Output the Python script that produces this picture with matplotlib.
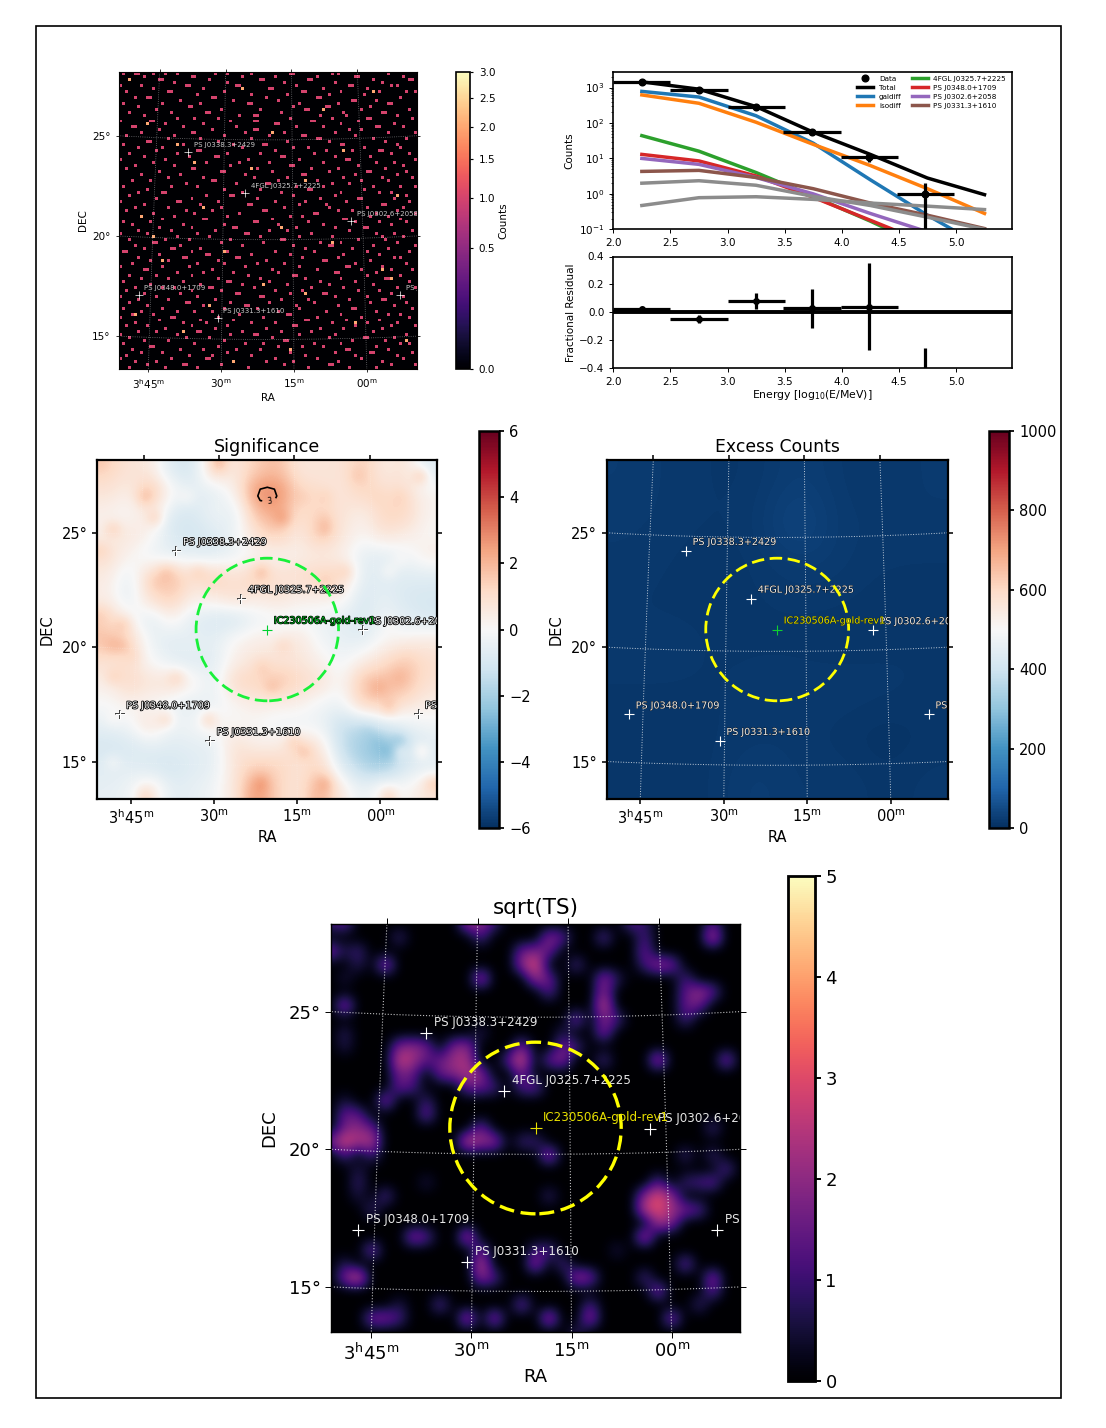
import numpy as np
import matplotlib
matplotlib.use("Agg")
import matplotlib.pyplot as plt
import matplotlib.patheffects as pe
from matplotlib.colors import PowerNorm, Normalize
from matplotlib.patches import Circle, Rectangle

W, H = 1106, 1428
# ---------- sky ----------
ra0, dec0 = 50.1, 20.96
half_x, half_y = 7.47, 7.44
circle_radius = 3.13
ra_ticks = [56.25, 52.5, 48.75, 45.0]
ra_labels = ["3$^{\\mathrm{h}}$45$^{\\mathrm{m}}$", "30$^{\\mathrm{m}}$", "15$^{\\mathrm{m}}$", "00$^{\\mathrm{m}}$"]
dec_ticks = [25, 20, 15]
dec_labels = ["25°", "20°", "15°"]
src_names = ["PS J0338.3+2429", "4FGL J0325.7+2225", "PS J0302.6+2058", "PS J0348.0+1709", "PS J0331.3+1610", "PS J0253.6+1710"]
src_ra = [54.48, 51.33, 45.61, 56.88, 52.71, 43.15]
src_dec = [24.35, 22.31, 20.87, 17.10, 16.05, 17.10]
roi_name = "IC230506A-gold-rev1"

# ---------- significance: broad 16 x 16 levels, then finer 32 x 32 local peaks ----------
sig_grid = [
 [1.3,0.8,0.6,-0.8,-1.0,1.2,0.6,1.5,1.9,0.7,0.7,0.8,1.5,0.5,0.8,-0.7],
 [0.8,0.4,1.8,0.1,-0.5,-0.6,0.3,2.8,2.9,1.3,1.0,0.7,1.3,1.0,1.0,0.2],
 [0.3,0.0,0.7,-0.8,-0.9,-0.3,-0.5,1.8,2.4,1.0,1.3,0.8,0.4,1.3,1.3,0.2],
 [0.4,0.7,0.2,-0.9,-1.1,-0.8,-0.3,0.9,1.5,0.5,1.7,0.7,0.1,0.8,0.5,0.1],
 [1.0,0.2,-0.3,-0.5,-0.5,-0.7,-0.3,0.1,0.2,0.4,0.5,0.4,-0.5,-0.6,-0.3,0.4],
 [0.5,-0.5,1.3,1.9,0.9,1.5,0.8,1.5,0.9,1.0,1.3,1.3,-0.6,-0.7,-0.7,-0.7],
 [0.4,-0.6,1.0,1.5,0.4,0.5,1.0,0.5,0.8,0.4,0.4,0.3,-0.9,-0.5,-0.9,-1.0],
 [1.3,0.3,-0.7,0.3,-0.6,-0.9,-1.0,-0.3,-0.2,-0.2,-0.3,-0.6,-0.9,-0.3,-0.6,-0.9],
 [1.8,1.3,-0.3,-0.7,-0.5,-0.6,0.1,0.4,0.4,0.7,-0.2,-0.5,-0.6,0.1,0.3,0.5],
 [0.9,1.0,0.0,-0.5,-0.7,-0.6,0.4,0.8,0.9,0.7,0.3,-0.2,0.4,1.0,1.7,1.0],
 [0.4,1.2,0.7,1.0,0.3,-0.5,1.2,1.3,1.7,1.2,0.8,0.0,1.8,2.0,1.9,0.9],
 [0.0,0.3,0.1,-0.3,-0.6,-0.3,0.1,0.5,0.4,0.3,-0.2,-0.3,1.3,1.5,0.9,0.4],
 [-0.5,-0.2,0.9,-0.3,-0.2,0.3,0.1,0.0,-0.3,-0.3,-0.3,-1.3,-1.5,-0.9,-0.5,-0.2],
 [-1.0,-0.9,-0.6,-0.7,-0.6,-0.5,0.9,0.4,0.5,1.2,0.7,-1.4,-2.2,-2.6,-1.4,-0.7],
 [-0.7,-0.6,-0.9,-1.0,-0.7,-0.5,0.8,1.5,1.3,0.8,1.3,-0.7,-1.7,-2.1,-0.9,-0.5],
 [-0.5,-0.3,0.7,-0.6,-0.5,-0.2,0.7,2.8,1.3,0.7,2.3,0.5,-0.5,0.4,0.0,0.8],
]
sig_detail = [
 (3,4,2.2),(0,0,1.6),(5,5,1.6),(0,11,2.2),(1,24,1.8),(1,30,1.8),(6,21,2.2),(5,21,1.7),(5,17,2.8),(3,19,1.5),(3,21,1.5),(3,28,1.5),(3,26,1.3),
 (10,6,2.0),(11,5,1.7),(10,15,2.2),(10,9,1.6),(6,1,1.7),(8,0,1.4),(10,23,1.5),(11,21,1.7),(17,1,2.2),(15,2,1.8),(17,2,2.0),(14,0,1.5),(18,3,1.3),
 (20,1,1.5),(20,7,1.5),(17,17,1.4),(19,15,1.6),(21,16,2.0),(21,26,2.4),(20,28,2.2),(23,27,1.9),(22,25,1.5),(24,10,1.6),(24,6,1.4),(30,15,3.0),
 (30,21,2.6),(27,19,2.0),(26,18,1.6),(31,4,1.4),(31,27,1.4),(30,31,1.7),(27,30,0.8),(27,27,-3.0),(26,26,-2.6),(25,25,-2.0),(26,28,-2.6),
 (4,6,0.0),(3,8,0.1),(24,1,0.2),(28,1,0.0),(27,28,-0.3),(9,28,0.1),(15,27,0.2),(10,27,0.2),
]
sig_peak_ra = [50.8, 50.45, 50.1, 49.75, 49.4]
sig_peak_dec = [26.27, 26.52, 26.82, 27.12, 27.37]
sig_peak = [
 [2.3,2.5,2.6,2.5,2.3],
 [2.5,2.9,2.9,2.9,2.5],
 [2.6,3.2,3.4,3.2,2.6],
 [2.5,3.0,3.2,3.0,2.5],
 [2.3,2.5,2.6,2.5,2.3],
]
# ---------- excess counts ----------
excess_grid = [
 [24,18,15,15,30,18,15,21],
 [21,18,15,18,50,18,21,18],
 [18,15,12,15,24,21,15,15],
 [15,15,15,15,15,15,12,15],
 [18,18,15,15,15,12,15,15],
 [15,15,15,18,18,21,18,15],
 [12,12,15,18,18,12,6,12],
 [12,12,15,28,18,21,12,18],
]
# ---------- sqrt(TS): (row, column, value) on a 31 x 31 mesh; everything else is 0 ----------
ts_cells = [
 (0,1,1.5),(0,0,1.0),(2,0,1.8),(2,2,1.1),(2,1,.6),(1,5,1.0),(3,4,2.2),(3,2,.8),(4,1,.6),
 (0,10,2.0),(0,11,2.0),(1,11,1.2),(0,12,1.0),(3,15,3.2),(2,14,1.6),(2,15,1.8),(3,14,2.0),(4,15,2.2),(4,16,1.6),(5,16,1.4),
 (1,16,2.0),(1,17,1.4),(2,16,1.6),(3,18,1.2),(4,11,2.4),(1,20,1.4),(0,22,1.3),(0,23,.9),(2,23,1.6),(1,23,1.2),(3,23,1.1),
 (3,25,1.8),(3,24,2.1),(1,28,2.7),(0,28,1.2),(4,21,.8),(4,20,2.0),(6,20,2.9),(5,20,2.0),(7,20,1.8),(7,21,1.2),
 (5,27,2.2),(4,26,1.2),(5,28,1.5),(5,26,1.4),(6,26,1.5),(6,27,1.6),(7,26,1.2),(7,18,1.8),(6,1,2.2),(8,1,.8),(9,1,.7),
 (8,11,.7),(8,17,.7),(8,20,1.9),(10,24,2.5),(10,29,2.0),(10,5,2.8),(9,6,2.0),(9,5,1.8),(9,7,1.6),(10,6,2.3),(10,7,1.4),
 (11,5,1.7),(11,6,1.5),(12,5,1.5),(12,6,1.2),(9,9,1.8),(9,10,2.0),(10,9,2.2),(10,10,2.4),(11,8,1.6),(11,9,1.9),(11,10,2.4),
 (10,8,1.5),(12,11,1.5),(12,10,1.5),(11,11,2.0),(12,12,1.1),(10,14,3.1),(9,14,1.8),(11,14,1.7),(10,13,1.4),(10,16,1.5),
 (10,17,2.0),(9,17,1.6),(9,18,1.2),(12,15,1.5),(12,14,1.3),(10,20,1.2),(13,4,2.0),(14,7,1.7),(13,7,1.0),
 (16,1,3.0),(16,2,2.3),(15,2,2.0),(16,3,2.6),(15,3,1.5),(15,1,1.7),(14,1,1.5),(14,2,1.4),(16,0,1.7),(17,1,1.2),(13,1,.6),
 (16,10,2.9),(16,12,2.2),(16,11,2.1),(15,11,1.7),(16,14,1.0),(17,16,2.3),(16,15,1.0),(17,3,1.1),(19,2,1.0),(18,2,.6),(20,2,.6),
 (15,28,1.1),(17,26,1.0),(17,28,1.0),(18,29,1.4),(20,24,3.1),(19,24,1.4),(21,24,3.1),(21,23,2.6),(20,23,2.0),(21,25,2.2),(20,25,2.0),
 (22,24,2.3),(22,25,1.8),(21,26,1.7),(21,27,1.4),(19,28,1.5),(19,27,1.2),(19,26,1.0),(20,16,.9),(19,7,.6),(20,4,1.3),(21,3,1.0),
 (23,10,2.5),(23,6,2.0),(23,7,1.4),(23,23,2.5),(24,3,1.8),(26,2,3.1),(26,1,1.8),(25,1,.8),(25,11,2.7),(24,11,1.6),(26,11,2.0),(26,12,1.3),
 (25,15,2.2),(24,16,1.3),(24,15,1.1),(26,18,2.2),(26,19,1.8),(25,17,1.2),(24,21,.6),(25,26,1.7),(27,24,2.0),(26,23,1.2),(26,28,2.0),(27,28,1.5),
 (28,27,1.0),(29,19,2.2),(28,19,1.2),(28,14,1.7),(29,16,2.5),(29,12,2.2),(29,10,2.4),(28,8,1.4),(29,4,1.8),(29,5,1.2),(29,3,1.8),(28,5,.7),
 (29,25,2.0),(30,18,.8),
]
ts_mesh = 31
# ---------- counts map: one-count cells per row of a 100 x 100 map, top row first ----------
counts_rows = [
 [1,5,6,11,15,19,32,36,44,57,58,71,73,90],[8,24,25,41,52,66,79,80,95],[3,13,14,30,47,48,63,64,85,97,98],[18,36,55,72,88],
 [0,7,22,23,39,40,59,77,78,91,93],[11,28,50,51,68,83],[2,16,17,35,61,62,74,87,96,99],[26,44,56,70,82],
 [5,9,10,31,32,49,66,67,94],[20,38,53,78,79,86],[1,14,27,43,44,60,73,90,91],[6,23,24,58,69,70,84],
 [12,34,47,62,63,81,97],[3,17,29,30,54,75,88,89],[8,40,45,46,67,76,93],[19,25,33,57,71,83,84,98],
 [0,10,11,37,45,46,64,65,80],[15,28,52,53,74,92],[4,5,21,39,59,68,86,87,95],[13,31,45,46,77,81],
 [7,24,25,42,55,72,90,99],[2,18,35,50,61,62,79],[16,27,44,66,67,85,96],[9,10,33,56,70,89],
 [1,21,38,48,49,74,75,93],[6,14,41,58,63,82,94],[12,26,27,52,69,78,87,88],[3,19,36,47,65,91,97],
 [8,23,32,33,54,55,72,84],[0,15,43,60,76,77,99],[11,29,40,50,68,86,92],[5,18,37,57,58,80,95],
 [2,24,25,46,64,73,89],[13,34,35,51,70,83,84,96],[7,20,42,61,62,79,93],[16,28,45,56,75,88,98],
 [4,10,31,32,53,66,81,90],[22,39,49,50,71,77],[1,17,26,59,68,85,94,99],[9,35,47,63,64,82],
 [6,14,15,41,54,74,87,91],[3,29,37,38,58,72,96],[12,24,46,67,80,81,92],[0,19,20,33,52,62,76,97],
 [8,27,43,44,60,69,88,89],[5,16,34,55,70,83,95],[2,22,31,48,49,73,78,93],[11,25,40,65,66,86,99],
 [7,18,36,57,61,84,90],[14,28,29,51,75,76,94],[1,10,45,46,63,79,87,96],[4,21,35,53,68,91],
 [13,24,38,39,59,72,82,83],[6,17,32,50,56,77,98],[0,9,26,42,43,64,86,92],[19,30,47,60,71,88,95],
 [3,15,23,37,54,55,80,89],[11,12,34,48,67,74,93],[5,20,41,58,70,71,85,99],[8,17,18,27,62,78,90],
 [1,2,24,36,52,65,83,97],[13,29,30,44,57,75,87],[6,21,22,39,40,61,73,92,94],[10,16,33,49,68,69,84],
 [4,26,35,46,55,79,96],[0,14,23,42,60,76,77,88],[8,9,31,51,66,81,91,98],[19,28,38,53,72,73,86],
 [3,12,24,43,58,59,83,94],[7,16,33,47,62,74,89,90],[1,21,36,37,50,67,79,97],[10,27,41,56,70,85],
 [5,14,18,30,31,45,64,75,93,99],[2,24,34,52,61,80,87],[8,20,39,40,57,68,69,91],[0,12,26,47,48,72,83,95],
 [6,16,32,54,63,77,88,89],[3,22,23,37,50,65,84,96],[9,28,42,43,59,73,92],[1,14,35,46,60,78,79,98],
 [7,19,25,31,53,69,86],[4,11,40,56,57,74,90,94],[0,17,18,33,48,66,81,97],[13,27,38,62,63,76,87],
 [5,21,29,44,52,71,83,93],[2,9,24,36,58,59,79,91,99],[15,32,49,67,75,88],[6,12,26,27,41,54,64,85],
 [0,19,37,45,46,60,72,96],[3,22,30,51,70,82,83,92],[8,16,35,55,56,78,89],[1,25,42,48,65,74,94,97],
 [10,11,33,53,61,68,86],[4,20,28,39,47,76,77,90],[7,14,36,57,72,84,85,98],[2,23,31,44,62,79,93],
 [0,17,29,30,52,66,81,95],[5,12,38,49,58,73,88],[9,21,22,34,55,70,71,91,99],[3,15,26,43,63,77,86],
]
counts_two = [(2,3),(5,41),(6,85),(17,9),(20,51),(24,19),(26,75),(32,44),(36,62),(41,93),(45,28),(48,7),(52,54),(57,71),
 (60,35),(63,14),(66,88),(71,48),(74,62),(78,30),(81,5),(84,79),(87,21),(90,96),(93,57),(97,38),(12,68),(30,25),(69,91),(55,11)]

# ---------- spectrum ----------
e_centers = [2.25, 2.75, 3.25, 3.75, 4.25, 4.75, 5.25]
data_x = [2.25, 2.75, 3.25, 3.74, 4.24, 4.73]
data_y = [1430, 880, 290, 55, 11, 1.0]
data_xerr = [0.25, 0.25, 0.25, 0.25, 0.25, 0.25]
data_yerr = [38, 30, 17, 7.4, 3.3, 0.99]
total = [1450, 900, 290, 55, 13, 2.8, 0.95]
galdiff = [780, 540, 160, 27, 2.5, 0.25, 0.03]
isodiff = [620, 360, 105, 25, 6.3, 1.4, 0.28]
fgl = [44, 16, 4.0, 0.85, 0.17, 0.03, 0.006]
ps0348 = [13, 8.5, 3.2, 0.8, 0.18, 0.04, 0.008]
ps0302 = [10, 6.8, 2.9, 1.0, 0.28, 0.085, 0.02]
ps0331 = [4.3, 4.6, 2.9, 1.4, 0.55, 0.25, 0.105]
grey_a = [2.0, 2.35, 1.75, 0.85, 0.47, 0.22, 0.10]
grey_b = [0.47, 0.78, 0.83, 0.70, 0.55, 0.45, 0.36]
resid_y = [0.02, -0.05, 0.08, 0.03, 0.04, -0.60]
resid_yerr = [0.02, 0.03, 0.06, 0.14, 0.31, 0.34]

plt.rcParams["font.family"] = "DejaVu Sans"
fig = plt.figure(figsize=(W / 100, H / 100), dpi=100, facecolor="white")


def px_axes(l, t, r, b, **kw):
    return fig.add_axes([l / W, 1 - b / H, (r - l) / W, (b - t) / H], **kw)


def project(ra, dec):
    """Zenithal equidistant sky projection, degrees on the image plane."""
    a = np.radians(np.asarray(ra, float) - ra0)
    d = np.radians(np.asarray(dec, float))
    d0 = np.radians(dec0)
    cosc = np.clip(np.sin(d0) * np.sin(d) + np.cos(d0) * np.cos(d) * np.cos(a), -1, 1)
    c = np.arccos(cosc)
    k = np.where(c < 1e-7, 1.0, c / np.where(c < 1e-7, 1.0, np.sin(c)))
    return (np.degrees(k * np.cos(d) * np.sin(a)),
            np.degrees(k * (np.cos(d0) * np.sin(d) - np.sin(d0) * np.cos(d) * np.cos(a))))


def sky_frame(ax, fs, lw, grid_alpha, grid_lw, tick_len, ypad, xpad=2):
    ax.set_xlim(half_x, -half_x)
    ax.set_ylim(-half_y, half_y)
    bot, top, lef, rig = [], [], [], []
    dense_dec = np.linspace(10, 32, 400)
    dense_ra = np.linspace(40, 61, 400)
    for r in ra_ticks:
        gx, gy = project(np.full_like(dense_dec, r), dense_dec)
        ax.plot(gx, gy, color="white", ls=":", lw=grid_lw, alpha=grid_alpha, zorder=2)
        bot.append(np.interp(-half_y, gy, gx))
        top.append(np.interp(half_y, gy, gx))
    for d in dec_ticks:
        gx, gy = project(dense_ra, np.full_like(dense_ra, d))
        ax.plot(gx, gy, color="white", ls=":", lw=grid_lw, alpha=grid_alpha, zorder=2)
        o = np.argsort(gx)
        lef.append(np.interp(half_x, gx[o], gy[o]))
        rig.append(np.interp(-half_x, gx[o], gy[o]))
    ax.set_xticks(bot, ra_labels, fontsize=fs)
    ax.set_yticks(lef, dec_labels, fontsize=fs)
    ax.tick_params(length=tick_len, width=lw * 0.7, direction="out")
    sec = ax.secondary_xaxis("top")
    sec.set_xticks(top, [""] * 4)
    sec.tick_params(length=tick_len, width=lw * 0.7)
    sec.spines["top"].set_visible(False)
    sey = ax.secondary_yaxis("right")
    sey.set_yticks(rig, [""] * 3)
    sey.tick_params(length=tick_len, width=lw * 0.7)
    sey.spines["right"].set_visible(False)
    for s in ax.spines.values():
        s.set_linewidth(lw)
    ax.set_xlabel("RA", fontsize=fs, labelpad=xpad)
    ax.set_ylabel("DEC", fontsize=fs, labelpad=ypad)


def sources(ax, fs, ms, off, stroke, color="#e6e6e6", show_roi=True, roi_color="yellow", mark_color="lime",
            roi_stroke=None, circ_color="yellow", circ_lw=2.0, mew=0.8):
    fx = [pe.withStroke(linewidth=stroke, foreground="black")] if stroke else None
    xs, ys = project(src_ra, src_dec)
    ax.plot(xs, ys, "+", color="white", ms=ms, mew=mew, zorder=5,
            path_effects=[pe.withStroke(linewidth=1.4, foreground="#333333")] if stroke > 1 else None)
    for x, y, n in zip(xs, ys, src_names):
        ax.annotate(n, (x, y), xytext=(off, off * 0.92), textcoords="offset points", color=color, fontsize=fs,
                    clip_on=True, path_effects=fx, zorder=6)
    if show_roi:
        x0, y0 = project(ra0, dec0)
        ax.add_patch(Circle((float(x0), float(y0)), circle_radius, fill=False, ec=circ_color, ls=(0, (4.5, 2)), lw=circ_lw, zorder=7))
        ax.plot([x0], [y0], "+", color=mark_color, ms=ms, mew=mew, zorder=8)
        ax.annotate(roi_name, (float(x0), float(y0)), xytext=(off, off * 0.92), textcoords="offset points", color=roi_color,
                    fontsize=fs, clip_on=True, zorder=9,
                    path_effects=[pe.withStroke(linewidth=roi_stroke, foreground="black")] if roi_stroke else None)


def cbar(im, box, fs, ticks, lw, fmt=None, tick_len=3.5):
    cax = px_axes(*box)
    cb = fig.colorbar(im, cax=cax, ticks=ticks, format=fmt)
    cb.ax.tick_params(labelsize=fs, length=tick_len, width=lw * 0.7)
    cb.outline.set_linewidth(lw)
    return cb


extent = (half_x, -half_x, -half_y, half_y)

# --- counts map ---
ax = px_axes(119, 72, 416.5, 369)
cgrid = np.zeros((100, 100))
for r, cols in enumerate(counts_rows):
    cgrid[r, cols] = 1
for r, c in counts_two:
    cgrid[r, c] = 2
im = ax.imshow(cgrid, cmap="magma", norm=PowerNorm(0.5, vmin=0, vmax=3), extent=extent, aspect="auto",
               interpolation="nearest", origin="upper")
sky_frame(ax, 7.5, 0.8, 0.45, 0.6, 2.5, 3, 1)
sources(ax, 5.0, 6, 4.0, 0, color="#c8c8c8", show_roi=False, mew=0.5)
cb = cbar(im, (455.5, 72, 470.5, 369), 7.5, [0, .5, 1, 1.5, 2, 2.5, 3], 1.2, "%.1f", 2.5)
cb.set_label("Counts", fontsize=7.5, labelpad=2)

# --- spectrum ---
ax = px_axes(613.3, 72, 1011.7, 229.3)
ax.set_yscale("log")
ax.errorbar(data_x, data_y, xerr=data_xerr, yerr=data_yerr, fmt="none", ecolor="black", elinewidth=2.3, zorder=9)
ax.plot(data_x, data_y, "o", color="black", ms=4.8, label="Data", zorder=9)
ax.plot(e_centers, total, color="black", lw=2.5, label="Total", zorder=8)
for vals, c, lab in [(galdiff, "C0", "galdiff"), (isodiff, "C1", "isodiff"), (fgl, "C2", "4FGL J0325.7+2225"),
                     (ps0348, "C3", "PS J0348.0+1709"), (ps0302, "C4", "PS J0302.6+2058"), (ps0331, "C5", "PS J0331.3+1610")]:
    ax.plot(e_centers, vals, color=c, lw=2.5, label=lab)
ax.plot(e_centers, grey_a, color="#8c8c8c", lw=2.5)
ax.plot(e_centers, grey_b, color="#8c8c8c", lw=2.5)
ax.set_xlim(2.0, 5.488)
ax.set_ylim(0.1, 2750)
ax.set_xticks([2, 2.5, 3, 3.5, 4, 4.5, 5])
ax.tick_params(labelsize=7.5, length=3, width=0.7)
ax.tick_params(which="minor", length=1.6, width=0.5)
ax.set_ylabel("Counts", fontsize=7.5, labelpad=3)
ax.legend(ncol=2, fontsize=5.2, frameon=False, loc="upper right", columnspacing=1.4, handlelength=2.2,
          labelspacing=0.42, borderaxespad=0.1, bbox_to_anchor=(0.995, 1.0))
for s in ax.spines.values():
    s.set_linewidth(1.2)

ax = px_axes(613.3, 256.5, 1011.7, 368)
ax.axhline(0, color="black", lw=2.8, zorder=3)
ax.errorbar(data_x, resid_y, xerr=data_xerr, yerr=resid_yerr, fmt="o", color="black", ms=4, elinewidth=2.3, zorder=4)
ax.set_xlim(2.0, 5.488)
ax.set_ylim(-0.4, 0.4)
ax.set_xticks([2, 2.5, 3, 3.5, 4, 4.5, 5])
ax.set_yticks([-0.4, -0.2, 0, 0.2, 0.4])
ax.tick_params(labelsize=7.5, length=3, width=0.7)
ax.set_xlabel("Energy [log$_{10}$(E/MeV)]", fontsize=7.8, labelpad=1)
ax.set_ylabel("Fractional Residual", fontsize=7.5, labelpad=2)
for s in ax.spines.values():
    s.set_linewidth(1.2)

# --- significance ---
ax = px_axes(97.3, 460, 437.3, 799)
coarse = np.array(sig_grid)
pos_c = np.arange(16) * 2 + 0.5
pos_f = np.arange(32)
by_row = np.array([np.interp(pos_f, pos_c, row) for row in coarse])
sgrid = np.array([np.interp(pos_f, pos_c, col) for col in by_row.T]).T
for r, c, v in sig_detail:
    sgrid[r, c] = v
im = ax.imshow(sgrid, cmap="RdBu_r", norm=Normalize(-6, 6), extent=extent, aspect="auto",
               interpolation="bicubic", origin="upper")
sky_frame(ax, 10.5, 1.6, 0.35, 0.5, 3.5, 5)
px_, py_ = project(*np.meshgrid(sig_peak_ra, sig_peak_dec))
cs = ax.contour(px_, py_, np.array(sig_peak), levels=[3], colors="black", linewidths=1.2, zorder=4)
lx, ly = project(49.98, 26.55)
ax.clabel(cs, fmt="%d", fontsize=5.5, inline=True, manual=[(float(lx), float(ly))])
sources(ax, 6.9, 7, 4.7, 1.2, color="white", roi_color="#00c020", mark_color="#00d030", roi_stroke=1.0,
        circ_color="#18f03a")
ax.set_title("Significance", fontsize=12.6, pad=5.5)
cbar(im, (479.3, 431, 499.3, 828), 10.5, [-6, -4, -2, 0, 2, 4, 6], 1.8)

# --- excess ---
ax = px_axes(606.7, 460, 947.7, 799)
im = ax.imshow(np.array(excess_grid), cmap="RdBu_r", norm=Normalize(0, 1000), extent=extent, aspect="auto",
               interpolation="bicubic", origin="upper")
sky_frame(ax, 10.5, 1.6, 0.75, 0.7, 3.5, 5)
sources(ax, 6.9, 7, 4.7, 0.5, color="#e8e8e8", roi_color="#d8d800", mark_color="#10d030", roi_stroke=0.4)
ax.set_title("Excess Counts", fontsize=12.4, pad=5.5)
cbar(im, (989.3, 431, 1009.3, 828), 10.5, [0, 200, 400, 600, 800, 1000], 1.8)

# --- sqrt(TS) ---
ax = px_axes(331, 924, 740, 1332)
tsgrid = np.zeros((ts_mesh, ts_mesh))
for r, c, v in ts_cells:
    tsgrid[r, c] = v
dx = 2 * half_x / (ts_mesh - 1)
dy = 2 * half_y / (ts_mesh - 1)
im = ax.imshow(tsgrid, cmap="magma", norm=Normalize(0, 5), aspect="auto", interpolation="bicubic", origin="upper",
               extent=(half_x + dx / 2, -half_x - dx / 2, -half_y - dy / 2, half_y + dy / 2))
sky_frame(ax, 13, 1.0, 0.75, 0.8, 4, 7, 3)
sources(ax, 8.6, 9, 5.6, 0, color="#e6e6e6", roi_color="#e8e000", mark_color="#e8e000", circ_lw=2.4)
ax.set_title("sqrt(TS)", fontsize=15.5, pad=7)
cbar(im, (788, 876, 815, 1381), 13, [0, 1, 2, 3, 4, 5], 2.0, None, 4)

# outer frame
fig.add_artist(Rectangle((36 / W, 1 - 1398 / H), (1061 - 36) / W, (1398 - 26) / H, transform=fig.transFigure,
                         fill=False, ec="black", lw=1.2))
fig.savefig("out.png", dpi=100)
